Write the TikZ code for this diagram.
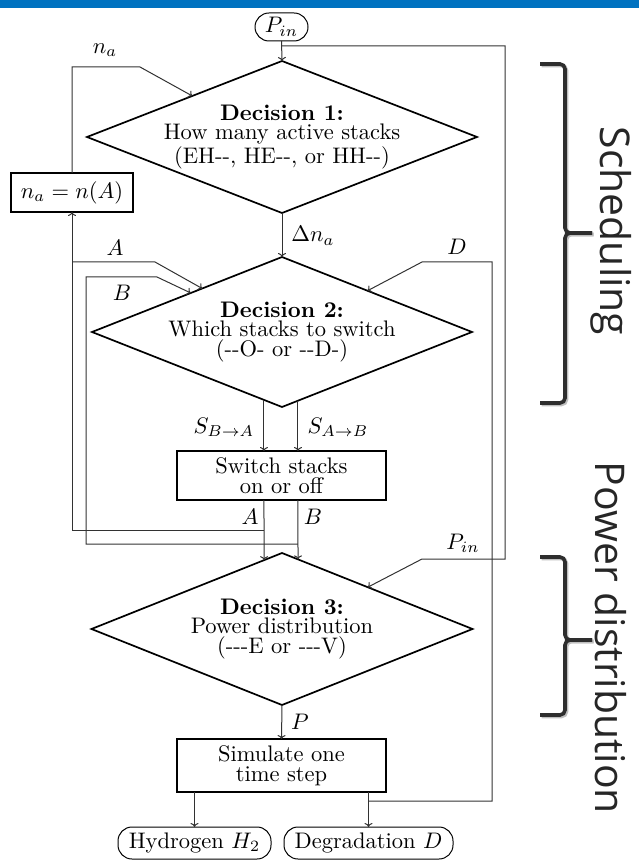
\documentclass[tikz,border=0pt]{standalone}
\usepackage{fontspec}
\newfontfamily\bracefont{Open Sans}
\usetikzlibrary{shapes.geometric,calc,arrows.meta}
\definecolor{bandblue}{RGB}{0,114,192}
\definecolor{conncol}{RGB}{50,50,50}
\newcommand\pxu{0.4444pt}
\begin{document}
\begin{tikzpicture}[x=0.4444pt,y=-0.4444pt,
  font=\fontsize{10}{8.7}\selectfont,
  dia/.style={diamond,draw,line width=1.7*\pxu,inner sep=0pt,outer sep=0pt},
  box/.style={rectangle,draw,line width=1.5*\pxu,inner sep=0pt,outer sep=0pt,align=center},
  term/.style={rectangle,rounded corners=14*\pxu,draw,line width=1*\pxu,inner sep=0pt,outer sep=0pt},
  conn/.style={draw=conncol,line width=1*\pxu},
  arr/.style={conn,-{Computer Modern Rightarrow[length=4*\pxu,width=8*\pxu]}},
  lbl/.style={inner sep=0pt},
  dtext/.style={align=center,inner sep=0pt},
  brace/.style={line width=3.6*\pxu,draw=black!82,rounded corners=5*\pxu},
  braceshadow/.style={line width=3.6*\pxu,draw=black!25,rounded corners=5*\pxu},
  bracelbl/.style={font=\bracefont\fontsize{18.2}{18.2}\selectfont,text=black!85,rotate=-90,inner sep=0pt}
]
\useasboundingbox (0,0) rectangle (639,860);
\fill[bandblue] (0,0) rectangle (639,8);

% nodes
\node[term,minimum width=53*\pxu,minimum height=28*\pxu] (pin) at (281.5,27) {$P_{in}$};
\node[dia,minimum width=390*\pxu,minimum height=152*\pxu] (d1) at (282,137) {};
\node[dtext] (t1) at (282,137) {\textbf{Decision 1:}\\How many active stacks\\(EH-{}-, HE-{}-, or HH-{}-)};
\node[box,minimum width=122*\pxu,minimum height=39*\pxu] (na) at (72,192.5) {$n_a = n(A)$};
\node[dia,minimum width=380*\pxu,minimum height=150*\pxu] (d2) at (282,332) {};
\node[dtext] (t2) at (282,332) {\textbf{Decision 2:}\\Which stacks to switch\\(-{}-O- or -{}-D-)};
\node[box,minimum width=209*\pxu,minimum height=49*\pxu] (sw) at (281.5,475.5) {Switch stacks\\on or off};
\node[dia,minimum width=381*\pxu,minimum height=152*\pxu] (d3) at (282,629) {};
\node[dtext] (t3) at (282,629) {\textbf{Decision 3:}\\Power distribution\\(-{}-{}-E or -{}-{}-V)};
\node[box,minimum width=209*\pxu,minimum height=53*\pxu] (sim) at (281.5,765.5) {Simulate one\\time step};
\node[term,minimum width=153*\pxu,minimum height=32*\pxu] (h2) at (194.5,843) {Hydrogen $H_2$};
\node[term,minimum width=169*\pxu,minimum height=32*\pxu] (deg) at (368.5,843) {Degradation $D$};

% edge points
\coordinate (d1na) at ($(d1.north)!0.46!(d1.west)$);
\coordinate (d2A) at ($(d2.north)!0.42!(d2.west)$);
\coordinate (d2B) at ($(d2.north)!0.48!(d2.west)$);
\coordinate (d2D) at ($(d2.north)!0.45!(d2.east)$);
\coordinate (d2a) at ($(d2.south)!0.095!(d2.west)$);
\coordinate (d2b) at ($(d2.south)!0.084!(d2.east)$);
\coordinate (d3a) at ($(d3.north)!0.094!(d3.west)$);
\coordinate (d3b) at ($(d3.north)!0.084!(d3.east)$);
\coordinate (d3P) at ($(d3.north)!0.45!(d3.east)$);

% connectors
\draw[arr] (pin.south) -- (d1.north);
\draw[arr] (pin.south |- 0,46) -- (505,46) -- (505,559) -- (422,559) -- (d3P);
\node[lbl] (lpin) at (463,543) {$P_{in}$};

\draw[arr] (d1.south) -- (d2.north);
\node[lbl] (ldna) at (313,236) {$\Delta n_a$};

\draw[arr] (na.north) -- (na.north |- 0,67) -- (140,67) -- (d1na);
\node[lbl] (lna) at (105,50) {$n_a$};

\draw[arr] (d2a) -- (d2a |- sw.north);
\draw[arr] (d2b) -- (d2b |- sw.north);
\node[lbl] (lsba) at (224,427) {$S_{B\to A}$};
\node[lbl] (lsab) at (338,427) {$S_{A\to B}$};

\draw[arr] (d2a |- sw.south) -- (d3a);
\draw[arr] (d2b |- sw.south) -- (d3b);
\node[lbl] (la1) at (250,517) {$A$};
\node[lbl] (lb1) at (313,517) {$B$};

\draw[arr] (d2a |- 0,530) -- (72,530) -- (na.south);
\draw[arr] (72,262) -- (155,262) -- (d2A);
\node[lbl] (la2) at (115,248) {$A$};

\draw[arr] (d2b |- 0,544) -- (86,544) -- (86,277) -- (157,277) -- (d2B);
\node[lbl] (lb2) at (122,293) {$B$};

\draw[arr] (d3.south) -- (sim.north);
\node[lbl] (lp) at (300,722) {$P$};

\draw[arr] (h2.north |- sim.south) -- (h2.north);
\draw[arr] (deg.north |- sim.south) -- (deg.north);
\draw[arr] (deg.north |- 0,801) -- (492,801) -- (492,262) -- (422,262) -- (d2D);
\node[lbl] (ld) at (457,247) {$D$};

% braces
\begin{scope}[shift={(1.5,1.5)}]
\draw[braceshadow] (540,64) -- (565,64) -- (565,233) -- (592,233);
\draw[braceshadow] (592,233) -- (565,233) -- (565,403) -- (540,403);
\draw[braceshadow] (540,557) -- (565,557) -- (565,640) -- (592,640);
\draw[braceshadow] (592,640) -- (565,640) -- (565,715) -- (540,715);
\end{scope}
\draw[brace] (540,64) -- (565,64) -- (565,233) -- (592,233);
\draw[brace] (592,233) -- (565,233) -- (565,403) -- (540,403);
\node[bracelbl] (sched) at (611,231) {Scheduling};
\draw[brace] (540,557) -- (565,557) -- (565,640) -- (592,640);
\draw[brace] (592,640) -- (565,640) -- (565,715) -- (540,715);
\node[bracelbl] (powd) at (611,638) {Power distribution};
\end{tikzpicture}
\end{document}
